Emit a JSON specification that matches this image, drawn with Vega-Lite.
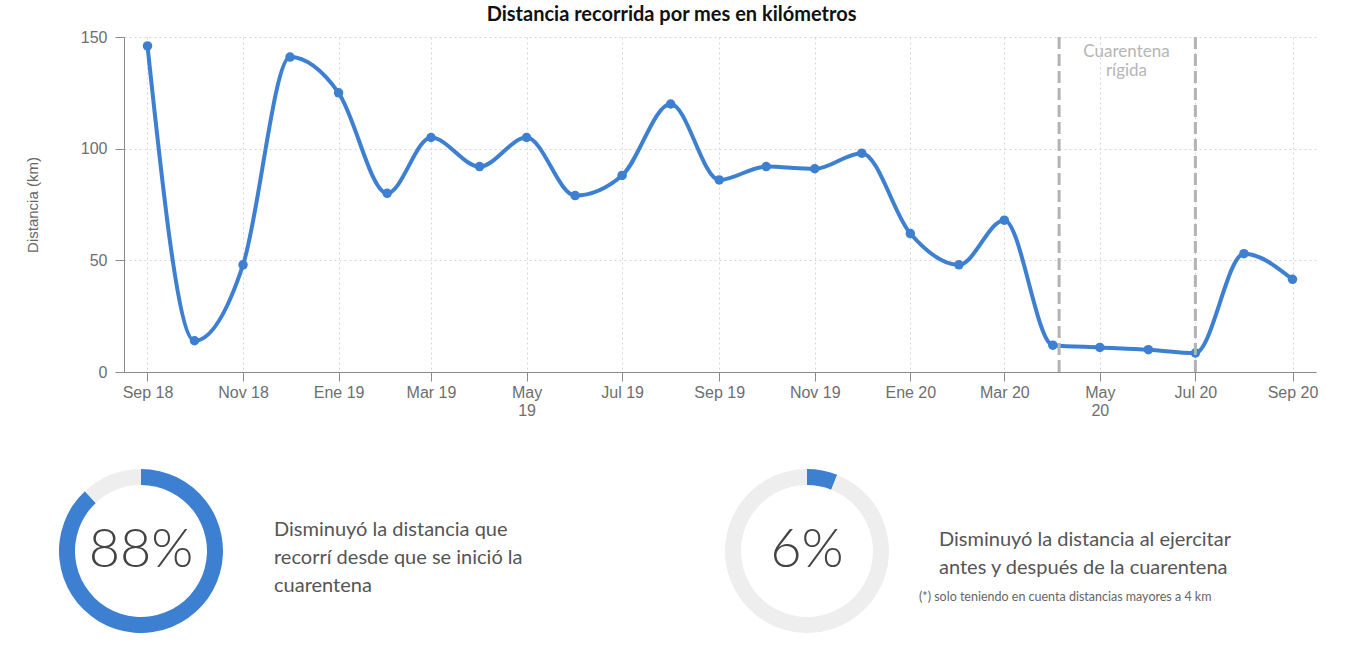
{
  "$schema": "https://vega.github.io/schema/vega-lite/v6.json",
  "description": "Distancia recorrida por mes, con dos indicadores de reducción.",
  "background": "white",
  "padding": {"left": 25, "top": 5, "right": 10, "bottom": 0},
  "title": {
    "text": "Distancia recorrida por mes en kilómetros",
    "font": "Lato",
    "fontSize": 20,
    "fontWeight": "bold",
    "color": "#111111",
    "anchor": "middle",
    "offset": 4
  },
  "config": {"view": {"stroke": null}},
  "spacing": 43,
  "vconcat": [
    {
      "width": 1192,
      "height": 335,
      "layer": [
        {
          "data": {
            "values": [
              {"mes": "2018-09-01", "km": 146},
              {"mes": "2018-10-01", "km": 14},
              {"mes": "2018-11-01", "km": 48},
              {"mes": "2018-12-01", "km": 141},
              {"mes": "2019-01-01", "km": 125},
              {"mes": "2019-02-01", "km": 80},
              {"mes": "2019-03-01", "km": 105},
              {"mes": "2019-04-01", "km": 92},
              {"mes": "2019-05-01", "km": 105},
              {"mes": "2019-06-01", "km": 79},
              {"mes": "2019-07-01", "km": 88},
              {"mes": "2019-08-01", "km": 120},
              {"mes": "2019-09-01", "km": 86},
              {"mes": "2019-10-01", "km": 92},
              {"mes": "2019-11-01", "km": 91},
              {"mes": "2019-12-01", "km": 98},
              {"mes": "2020-01-01", "km": 62},
              {"mes": "2020-02-01", "km": 48},
              {"mes": "2020-03-01", "km": 68},
              {"mes": "2020-04-01", "km": 12},
              {"mes": "2020-05-01", "km": 11},
              {"mes": "2020-06-01", "km": 10},
              {"mes": "2020-07-01", "km": 8.5},
              {"mes": "2020-08-01", "km": 53},
              {"mes": "2020-09-01", "km": 41.5}
            ]
          },
          "encoding": {
            "x": {
              "field": "mes",
              "type": "temporal",
              "scale": {
                "type": "utc",
                "domain": [
                  {"year": 2018, "month": 8, "date": 17, "utc": true},
                  {"year": 2020, "month": 9, "date": 16, "utc": true}
                ]
              },
              "axis": {
                "title": null,
                "values": [
                  {"year": 2018, "month": 9, "date": 1, "utc": true},
                  {"year": 2018, "month": 11, "date": 1, "utc": true},
                  {"year": 2019, "month": 1, "date": 1, "utc": true},
                  {"year": 2019, "month": 3, "date": 1, "utc": true},
                  {"year": 2019, "month": 5, "date": 1, "utc": true},
                  {"year": 2019, "month": 7, "date": 1, "utc": true},
                  {"year": 2019, "month": 9, "date": 1, "utc": true},
                  {"year": 2019, "month": 11, "date": 1, "utc": true},
                  {"year": 2020, "month": 1, "date": 1, "utc": true},
                  {"year": 2020, "month": 3, "date": 1, "utc": true},
                  {"year": 2020, "month": 5, "date": 1, "utc": true},
                  {"year": 2020, "month": 7, "date": 1, "utc": true},
                  {"year": 2020, "month": 9, "date": 1, "utc": true}
                ],
                "labelExpr": "utcmonth(datum.value) == 4 ? ['May', utcFormat(datum.value, '%y')] : ['Ene','Feb','Mar','Abr','May','Jun','Jul','Ago','Sep','Oct','Nov','Dic'][utcmonth(datum.value)] + ' ' + utcFormat(datum.value, '%y')",
                "grid": true,
                "gridDash": [2, 3],
                "gridColor": "#d6d6d6",
                "domainColor": "#8a8a8a",
                "tickColor": "#8a8a8a",
                "tickSize": 9,
                "labelFont": "Liberation Sans",
                "labelFontSize": 16,
                "labelColor": "#6e6e6e",
                "labelPadding": 3,
                "labelLineHeight": 18,
                "labelFlush": false,
                "labelOverlap": false
              }
            },
            "y": {
              "field": "km",
              "type": "quantitative",
              "scale": {"domain": [0, 150], "nice": false},
              "axis": {
                "title": "Distancia (km)",
                "values": [0, 50, 100, 150],
                "titleFont": "Liberation Sans Narrow, Liberation Sans",
                "titleFontSize": 15,
                "titleFontWeight": "normal",
                "titleColor": "#666666",
                "titlePadding": 40,
                "grid": true,
                "gridDash": [2, 3],
                "gridColor": "#d6d6d6",
                "domainColor": "#8a8a8a",
                "tickColor": "#8a8a8a",
                "tickSize": 9,
                "labelFont": "Liberation Sans",
                "labelFontSize": 16,
                "labelColor": "#6e6e6e",
                "labelPadding": 8
              }
            }
          },
          "layer": [
            {
              "mark": {"type": "line", "interpolate": "monotone", "color": "#3d7fd0", "strokeWidth": 4}
            },
            {
              "mark": {"type": "point", "filled": true, "size": 90, "color": "#3d7fd0", "opacity": 1}
            }
          ]
        },
        {
          "data": {
            "values": [
              {"fecha": "2020-04-05"},
              {"fecha": "2020-07-01"}
            ]
          },
          "mark": {"type": "rule", "color": "#b3b3b3", "strokeWidth": 3, "strokeDash": [12, 5]},
          "encoding": {
            "x": {"field": "fecha", "type": "temporal"}
          }
        },
        {
          "data": {
            "values": [
              {"fecha": "2020-05-18", "km": 147, "texto": ["Cuarentena", "rígida"]}
            ]
          },
          "mark": {
            "type": "text",
            "font": "Lato",
            "fontSize": 17,
            "color": "#b5b5b5",
            "align": "center",
            "baseline": "top",
            "lineHeight": 19
          },
          "encoding": {
            "x": {"field": "fecha", "type": "temporal"},
            "y": {"field": "km", "type": "quantitative"},
            "text": {"field": "texto", "type": "nominal"}
          }
        }
      ]
    },
    {
      "bounds": "flush",
      "spacing": 0,
      "hconcat": [
        {
          "width": 34,
          "height": 180,
          "data": {
            "values": [
              {"parte": "reducción", "valor": 88, "orden": 1, "etiqueta": "88%"},
              {"parte": "resto", "valor": 12, "orden": 2, "etiqueta": ""}
            ]
          },
          "layer": [
            {
              "mark": {"type": "arc", "outerRadius": 82, "innerRadius": 66},
              "encoding": {
                "theta": {"field": "valor", "type": "quantitative", "stack": true},
                "order": {"field": "orden", "type": "quantitative"},
                "color": {
                  "field": "parte",
                  "type": "nominal",
                  "scale": {"domain": ["reducción", "resto"], "range": ["#3d7fd0", "#eeeeee"]},
                  "legend": null
                }
              }
            },
            {
              "transform": [{"filter": "datum.etiqueta != ''"}],
              "mark": {"type": "text", "font": "Lato", "fontSize": 54, "fontWeight": 300, "color": "#444444"},
              "encoding": {"text": {"field": "etiqueta", "type": "nominal"}}
            }
          ]
        },
        {
          "width": 549,
          "height": 180,
          "data": {
            "values": [
              {"texto": ["Disminuyó la distancia que", "recorrí desde que se inició la", "cuarentena"]}
            ]
          },
          "mark": {
            "type": "text",
            "align": "left",
            "baseline": "middle",
            "font": "Lato",
            "fontSize": 20,
            "color": "#555555",
            "lineHeight": 28,
            "dx": 116,
            "dy": -21
          },
          "encoding": {
            "x": {"value": 0},
            "text": {"field": "texto", "type": "nominal"}
          }
        },
        {
          "width": 200,
          "height": 180,
          "data": {
            "values": [
              {"parte": "reducción", "valor": 6, "orden": 1, "etiqueta": "6%"},
              {"parte": "resto", "valor": 94, "orden": 2, "etiqueta": ""}
            ]
          },
          "layer": [
            {
              "mark": {"type": "arc", "outerRadius": 82, "innerRadius": 66},
              "encoding": {
                "theta": {"field": "valor", "type": "quantitative", "stack": true},
                "order": {"field": "orden", "type": "quantitative"},
                "color": {
                  "field": "parte",
                  "type": "nominal",
                  "scale": {"domain": ["reducción", "resto"], "range": ["#3d7fd0", "#eeeeee"]},
                  "legend": null
                }
              }
            },
            {
              "transform": [{"filter": "datum.etiqueta != ''"}],
              "mark": {"type": "text", "font": "Lato", "fontSize": 54, "fontWeight": 300, "color": "#444444"},
              "encoding": {"text": {"field": "etiqueta", "type": "nominal"}}
            }
          ]
        },
        {
          "width": 410,
          "height": 180,
          "layer": [
            {
              "data": {
                "values": [
                  {"texto": ["Disminuyó la distancia al ejercitar", "antes y después de la cuarentena"]}
                ]
              },
              "mark": {
                "type": "text",
                "align": "left",
                "baseline": "middle",
                "font": "Lato",
                "fontSize": 20,
                "color": "#555555",
                "lineHeight": 28,
                "dx": 32,
                "dy": -11
              },
              "encoding": {
                "x": {"value": 0},
                "text": {"field": "texto", "type": "nominal"}
              }
            },
            {
              "data": {
                "values": [
                  {"nota": "(*) solo teniendo en cuenta distancias mayores a 4 km"}
                ]
              },
              "mark": {
                "type": "text",
                "align": "left",
                "baseline": "middle",
                "font": "Lato",
                "fontSize": 12.5,
                "color": "#666666",
                "dx": 12,
                "dy": 46
              },
              "encoding": {
                "x": {"value": 0},
                "text": {"field": "nota", "type": "nominal"}
              }
            }
          ]
        }
      ]
    }
  ]
}
